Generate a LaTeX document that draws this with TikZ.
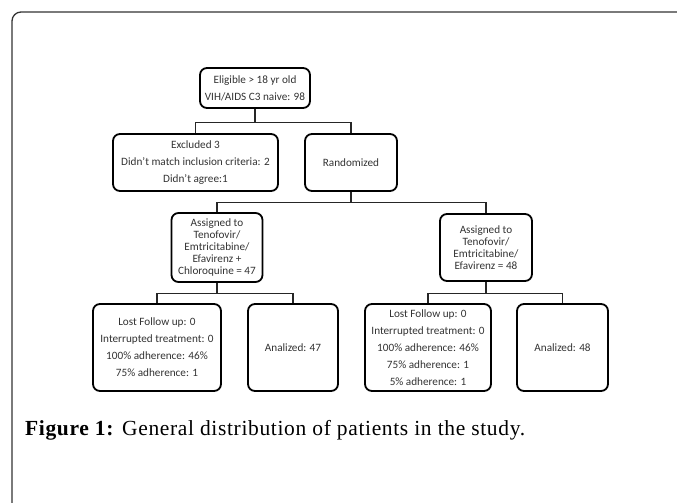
\documentclass[tikz,border=0pt]{standalone}
\usepackage{fontspec}
\setmainfont{Liberation Serif}
\newfontfamily\capfont[LetterSpace=3]{Liberation Serif}
\newfontfamily\boxfont{Carlito}
\begin{document}
\begin{tikzpicture}[x=1pt,y=-1pt,
  box/.style={draw=black, line width=1.8pt, rounded corners=7pt, align=center, inner sep=0pt,
    text=black!80, font=\boxfont\fontsize{11.2}{17}\selectfont},
  tightbox/.style={box, font=\boxfont\fontsize{11.2}{12}\selectfont},
  conn/.style={draw=black!85, line width=1.1pt},
  frame/.style={draw=black!80, line width=1.3pt, rounded corners=9pt}]
\useasboundingbox (0,0) rectangle (677,503);
\fill[white] (0,0) rectangle (677,503);
\draw[frame] (12,506) -- (12,12) -- (680,12);

\node[box, minimum width=110pt, minimum height=40pt] (elig) at (255,88)
  {Eligible > 18 yr old\\VIH/AIDS C3 naive: 98};
\node[box, minimum width=165pt, minimum height=57pt] (excl) at (195.5,162.5)
  {Excluded 3\\Didn’t match inclusion criteria: 2\\Didn’t agree:1};
\node[box, minimum width=92pt, minimum height=57pt] (rand) at (351,162.5)
  {Randomized};
\node[tightbox, minimum width=91pt, minimum height=69pt] (asgL) at (217,247.5)
  {Assigned to\\Tenofovir/\\Emtricitabine/\\Efavirenz +\\Chloroquine = 47};
\node[tightbox, minimum width=92pt, minimum height=67pt] (asgR) at (486,247.5)
  {Assigned to\\Tenofovir/\\Emtricitabine/\\Efavirenz = 48};
\node[box, minimum width=128pt, minimum height=87pt] (lostL) at (157,347.5)
  {Lost Follow up: 0\\Interrupted treatment: 0\\100\% adherence: 46\%\\75\% adherence: 1};
\node[box, minimum width=90pt, minimum height=87pt] (anL) at (293,347.5)
  {Analized: 47};
\node[box, minimum width=126pt, minimum height=87pt] (lostR) at (428,347.5)
  {Lost Follow up: 0\\Interrupted treatment: 0\\100\% adherence: 46\%\\75\% adherence: 1\\5\% adherence: 1};
\node[box, minimum width=91pt, minimum height=87pt] (anR) at (562.5,347.5)
  {Analized: 48};

\draw[conn] (elig.south) -- ++(0,14) coordinate (j1);
\draw[conn] (excl.north) |- (j1) -| (rand.north);
\draw[conn] (rand.south) -- ++(0,11) coordinate (j2);
\draw[conn] (asgL.north) |- (j2) -| (asgR.north);
\draw[conn] (asgL.south) -- ++(0,11) coordinate (j3);
\draw[conn] (lostL.north) |- (j3) -| (anL.north);
\draw[conn] (asgR.south) -- ++(0,12) coordinate (j4);
\draw[conn] (lostR.north) |- (j4) -| (anR.north);

\node[anchor=base west, inner sep=0pt, font=\capfont\fontsize{21.5}{24}\selectfont] (cap) at (25,435)
  {\textbf{Figure 1:} General distribution of patients in the study.};
\end{tikzpicture}
\end{document}
